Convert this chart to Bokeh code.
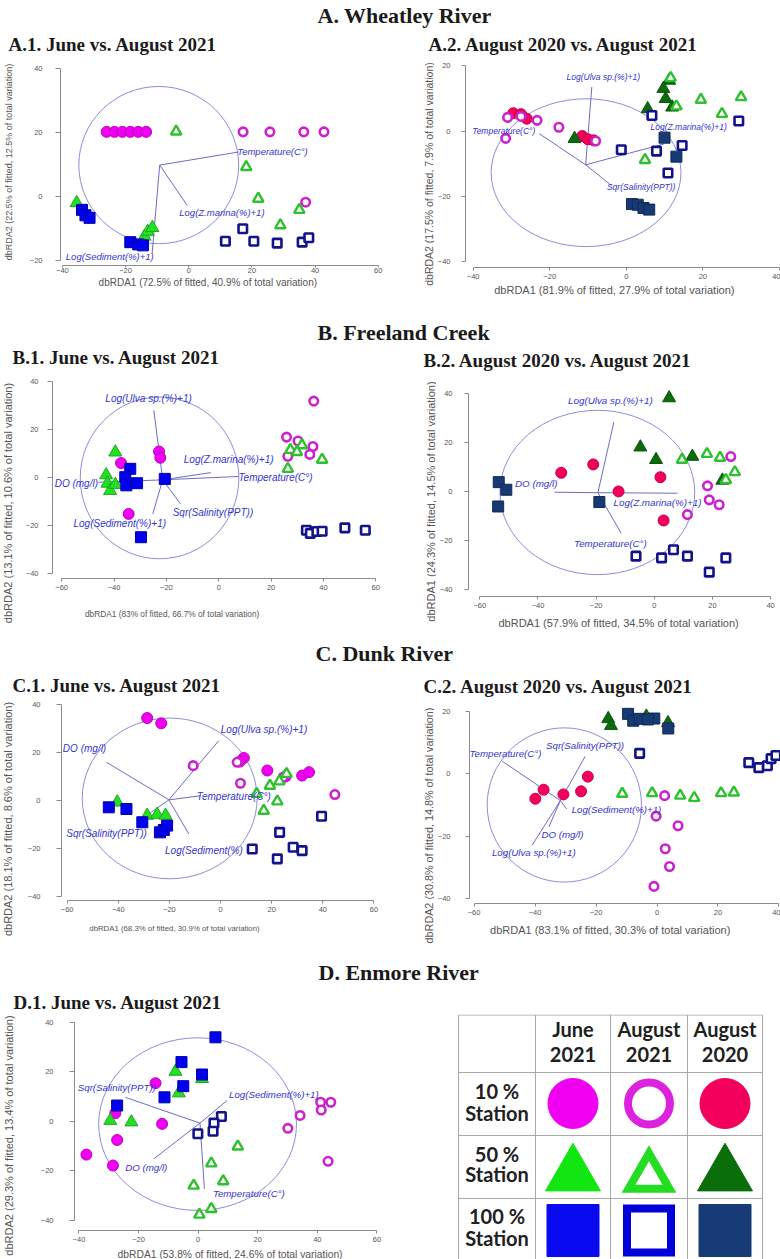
import numpy as np
from bokeh.plotting import figure
from bokeh.layouts import column, row
from bokeh.models import Range1d, FixedTicker
from bokeh.core.properties import value
from bokeh.embed import file_html
from bokeh.resources import INLINE

SANS = "Liberation Sans"
SERIF = "Liberation Serif"

# ---------------- site scores (dbRDA1, dbRDA2) ----------------
# A.1 Wheatley River, June vs. August 2021
A1_JUNE_10 = [(-26, 20.2), (-23.5, 20.2), (-21, 20.2), (-18.5, 20.2), (-16, 20.2), (-13.5, 20.2)]
A1_AUG21_10 = [(17.2, 20.2), (25.7, 20.2), (36.4, 20.2), (42.8, 20.2), (37, -1.8)]
A1_JUNE_50 = [(-35.5, -2), (-14, -12.5), (-13, -11), (-11.5, -9.8)]
A1_AUG21_50 = [(-4, 20.3), (18.2, 9.2), (22, -0.7), (35, -4.2), (29, -9)]
A1_JUNE_100 = [(-33.8, -4.2), (-32.7, -5.9), (-31.4, -6.7), (-18.5, -14.3), (-16, -15), (-14.5, -15.3)]
A1_AUG21_100 = [(11.6, -14), (17.1, -10.1), (20.6, -14), (28, -14.6), (35.9, -14.3), (38, -12.9)]

# A.2 Wheatley River, August 2020 vs. August 2021
A2_AUG20_10 = [(-29.5, 5.5), (-27.5, 5.2), (-26, 3.8), (-11.5, -1.5), (-10, -2.5), (-8.5, -2.8)]
A2_AUG21_10 = [(-31, 4.2), (-31.5, -2.2), (-23.3, 3.3), (-17.6, 1.2), (-27.5, 4.5), (-8, -3)]
A2_AUG20_50 = [(11.2, 15.5), (9.7, 13), (10.3, 9.9), (12, 7.3), (5.6, 6.8), (-13.5, -2.3)]
A2_AUG21_50 = [(11.6, 16.3), (19.5, 9.6), (30, 10.4), (25, 5.3), (4.9, -8.8), (13.1, 7.6)]
A2_AUG20_100 = [(10, -2), (13.1, -7.8), (1.5, -22.3), (3, -22.5), (4.5, -23.5), (6, -24)]
A2_AUG21_100 = [(6.7, 4.8), (29.4, 3.1), (-1.3, -5.7), (7.9, -6.1), (14.6, -4.4), (10.9, -12.8)]

# B.1 Freeland Creek, June vs. August 2021
B1_JUNE_10 = [(-37.3, 6), (-22.8, 10.8), (-22.3, 8.2), (-34.4, -15.2)]
B1_AUG21_10 = [(36.3, 31.8), (25.9, 16.8), (30.3, 15.2), (36, 12.9), (34.8, 9.6), (26.4, 8.8)]
B1_JUNE_50 = [(-39.5, 10.5), (-43, 1), (-42.5, -2.5), (-41.5, -5.5), (-39.5, -3)]
B1_AUG21_50 = [(27.4, 11.5), (31.8, 13.4), (29.9, 10.6), (26.4, 3.6), (39.5, 7.4)]
B1_JUNE_100 = [(-33.8, 3.6), (-35.7, 0.1), (-35.3, -3.3), (-31.2, -2.4), (-20.6, -0.6), (-29.7, -24.9)]
B1_AUG21_100 = [(33.5, -22), (35, -23.3), (37.5, -22.5), (39.5, -22.4), (48.2, -21), (56, -22)]

# B.2 Freeland Creek, August 2020 vs. August 2021
B2_AUG20_10 = [(-32, 7.6), (-21, 11), (-12.3, 0), (2.1, 5.8), (3.2, -11.8)]
B2_AUG21_10 = [(26.3, 14.2), (18.3, 2.3), (18.9, -3.4), (22.3, -5.4), (11.4, -9.4)]
B2_AUG20_50 = [(5.1, 38), (-4.8, 18), (0.6, 12.9), (13.1, 14.2), (23.4, 4.5)]
B2_AUG21_50 = [(9.5, 12.9), (18.1, 15.3), (22.6, 13.7), (27.7, 7.9), (24.6, 4.7)]
B2_AUG20_100 = [(-53.5, 3.8), (-50.9, 0.7), (-53.7, -6.1), (-18.9, -4.3)]
B2_AUG21_100 = [(-6.3, -26.3), (2.5, -27), (6.6, -23.7), (11.4, -26.3), (18.9, -32.8), (24.6, -27)]

# C.1 Dunk River, June vs. August 2021
C1_JUNE_10 = [(-28.7, 34.3), (-23.2, 32.1), (9.1, 17.7), (7.5, 16.2), (18.3, 12.5), (25.4, 10), (31.9, 10.4), (34.6, 11.8)]
C1_AUG21_10 = [(-10.7, 14.5), (6.5, 15.9), (7.8, 7.2), (44.7, 2.5), (24.5, 9.7)]
C1_JUNE_50 = [(-40.4, -0.7), (-28.7, -6.2), (-24.8, -5.8), (-21.5, -6.2)]
C1_AUG21_50 = [(14.1, 2.8), (19.3, 6.2), (22.2, -0.3), (16.9, -4.2), (25.8, 11.1), (23, 8)]
C1_JUNE_100 = [(-43.7, -2.8), (-36.8, -3.5), (-30.6, -9), (-23.7, -13.2), (-22.2, -12.2), (-20.9, -10.4)]
C1_AUG21_100 = [(39.5, -6.5), (23.1, -13.2), (12.4, -20.1), (28.4, -19.4), (31.9, -20.8), (22.2, -24.2)]

# C.2 Dunk River, August 2020 vs. August 2021
C2_AUG20_10 = [(-39.9, -8), (-37.2, -5.1), (-30.7, -6.6), (-24.9, -5.6), (-22.7, -0.9)]
C2_AUG21_10 = [(2.5, -7), (-0.3, -13.6), (6.9, -16.7), (2.7, -24.1), (4.1, -29.8), (-1, -36.2)]
C2_AUG20_50 = [(-16, 17.7), (-15.1, 15.5), (-3.5, 18.5), (3.6, 16.4)]
C2_AUG21_50 = [(-11.4, -6.4), (-1.6, -6.2), (7.6, -7), (12.2, -7.7), (21, -6.2), (25.2, -6)]
C2_AUG20_100 = [(-9.5, 19.3), (-7.8, 17.1), (-5.7, 17.7), (-0.9, 17.8), (3.7, 14.6), (-3, 17.5)]
C2_AUG21_100 = [(-5.7, 6.6), (30.1, 3.6), (33.4, 2), (36.2, 2.6), (37.4, 4.9), (39, 5.9)]

# D.1 Enmore River, June vs. August 2021
D1_JUNE_10 = [(-14.3, 15.4), (-12.1, -1), (-27.8, 3.3), (-27.2, -7.5), (-37.5, -13.4), (-28.6, -17.8)]
D1_AUG21_10 = [(34.2, 2.4), (30.1, -2.8), (41.1, 7.7), (44.5, 7.7), (41.3, 4.6), (43.6, -16.1)]
D1_JUNE_50 = [(-7.6, 20.1), (-6.5, 11.4), (-29.5, 0.3), (-22.4, -0.3), (1.3, 17.2)]
D1_AUG21_50 = [(13.3, -10.1), (4.4, -16.9), (8.4, -24.1), (-1.5, -25.9), (4.4, -35.3), (0.4, -37.6)]
D1_JUNE_100 = [(5.8, 33.9), (-5.6, 23.9), (1.3, 18.9), (-5, 14.2), (-11.3, 9.7), (-27.2, 6.4)]
D1_AUG21_100 = [(7.8, 2), (5.3, -0.7), (5, -4), (-0.1, -5)]

# ---------------- predictor vectors and correlation circles ----------------
A1_VEC_ORIGIN = (-9.2, 9.8)
A1_VEC_NAMES = ["Temperature(C°)", "Log(Z.marina(%)+1)", "Log(Sediment(%)+1)"]
A1_VEC_X = [15.8, -0.5, -11.6]
A1_VEC_Y = [13.9, -2.8, -17.9]
A1_CIRCLE = (-9.5, 9.8, 50.6, 49.2)

A2_VEC_ORIGIN = (-10.6, -10.3)
A2_VEC_NAMES = ["Log(Ulva sp.(%)+1)", "Temperature(C°)", "Sqr(Salinity(PPT))", "Log(Z.marina(%)+1)"]
A2_VEC_X = [-9, -22.7, -3.9, 9.9]
A2_VEC_Y = [13.5, -0.8, -16.6, -3.9]
A2_CIRCLE = (-10.5, -12.7, 49.6, 45.2)

B1_VEC_ORIGIN = (-21.4, -1)
B1_VEC_NAMES = ["Log(Ulva sp.(%)+1)", "Log(Z.marina(%)+1)", "Temperature(C°)", "DO (mg/l)",
                "Sqr(Salinity(PPT))", "Log(Sediment(%)+1)"]
B1_VEC_X = [-24.8, -3, 7.6, -46, -14.6, -25.2]
B1_VEC_Y = [28, 2, 0.4, -2, -11, -15.2]
B1_CIRCLE = (-22.6, -0.2, 60.6, 67.4)

B2_VEC_ORIGIN = (-19.4, -0.5)
B2_VEC_NAMES = ["Log(Ulva sp.(%)+1)", "DO (mg/l)", "Log(Z.marina(%)+1)", "Temperature(C°)"]
B2_VEC_X = [-13.9, -34.3, 8, -11.4]
B2_VEC_Y = [28.2, -0.3, -0.7, -17]
B2_CIRCLE = (-19.6, -0.4, 67, 66.8)

C1_VEC_ORIGIN = (-20.2, 0.3)
C1_VEC_NAMES = ["DO (mg/l)", "Log(Ulva sp.(%)+1)", "Temperature(C°)", "Sqr(Salinity(PPT))", "Log(Sediment(%)"]
C1_VEC_X = [-44.6, -0.7, -7.8, -30, -12.4]
C1_VEC_Y = [15.9, 24.9, 2, -7, -13.9]
C1_CIRCLE = (-19.9, 0.9, 68.4, 66.8)

C2_VEC_ORIGIN = (-31.7, -8.6)
C2_VEC_NAMES = ["Temperature(C°)", "Sqr(Salinity(PPT))", "Log(Sediment(%)+1)", "DO (mg/l)", "Log(Ulva sp.(%)+1)"]
C2_VEC_X = [-50.8, -23.6, -29.6, -35.5, -41]
C2_VEC_Y = [4.1, 5.6, -11.3, -17.1, -23]
C2_CIRCLE = (-30.4, -10, 50.6, 49.6)

D1_VEC_ORIGIN = (0.6, -0.7)
D1_VEC_NAMES = ["Sqr(Salinity(PPT))", "Log(Sediment(%)+1)", "DO (mg/l)", "Temperature(C°)"]
D1_VEC_X = [-24.4, 9.7, -14.9, 2.1]
D1_VEC_Y = [9.7, 8.4, -15.1, -27.2]
D1_CIRCLE = (-0.2, -1.1, 66.4, 69.6)

# ---------------- axis titles ----------------
AXIS_TITLES = {
    "A1": ("dbRDA1 (72.5% of fitted, 40.9% of total variation)", "dbRDA2 (22.5% of fitted, 12.5% of total variation)"),
    "A2": ("dbRDA1 (81.9% of fitted, 27.9% of total variation)", "dbRDA2 (17.5% of fitted, 7.9% of total variation)"),
    "B1": ("dbRDA1 (83% of fitted, 66.7% of total variation)", "dbRDA2 (13.1% of fitted, 10.6% of total variation)"),
    "B2": ("dbRDA1 (57.9% of fitted, 34.5% of total variation)", "dbRDA1 (24.3% of fitted, 14.5% of total variation)"),
    "C1": ("dbRDA1 (68.3% of fitted, 30.9% of total variation)", "dbRDA2 (18.1% of fitted, 8.6% of total variation)"),
    "C2": ("dbRDA1 (83.1% of fitted, 30.3% of total variation)", "dbRDA2 (30.8% of fitted, 14.8% of total variation)"),
    "D1": ("dbRDA1 (53.8% of fitted, 24.6% of total variation)", "dbRDA2 (29.3% of fitted, 13.4% of total variation)"),
}

# ---------------- legend categories ----------------
LEGEND_DATES = [("June", "2021"), ("August", "2021"), ("August", "2020")]
LEGEND_STATIONS = [("10 %", "Station"), ("50 %", "Station"), ("100 %", "Station")]
LEGEND_KEYS = [["june10", "aug21_10", "aug20_10"],
               ["june50", "aug21_50", "aug20_50"],
               ["june100", "aug21_100", "aug20_100"]]

# ---------------- marker styles ----------------
STYLE = {
    "june10":    dict(marker="circle",   fill="#f000f0", line="#c000c0", size=11, lw=1.0),
    "aug21_10":  dict(marker="circle",   fill="white",   line="#cc22cc", size=8.5, lw=2.6),
    "aug20_10":  dict(marker="circle",   fill="#f2005c", line="#c4004c", size=11, lw=1.0),
    "june50":    dict(marker="triangle", fill="#22e022", line="#1fa81f", size=13, lw=1.0),
    "aug21_50":  dict(marker="triangle", fill="white",   line="#2ec02e", size=10.5, lw=2.4),
    "aug20_50":  dict(marker="triangle", fill="#0b6b0b", line="#0a560a", size=13, lw=1.0),
    "june100":   dict(marker="square",   fill="#0000ee", line="#0000a8", size=11, lw=1.0),
    "aug21_100": dict(marker="square",   fill="white",   line="#12128c", size=8.5, lw=2.6),
    "aug20_100": dict(marker="square",   fill="#173a72", line="#0f2a5a", size=11, lw=1.0),
}
LEGEND_STYLE = {
    "june10":    dict(fill="#f000f0", line="#f000f0", lw=1),
    "aug21_10":  dict(fill="white",   line="#dd22dd", lw=8),
    "aug20_10":  dict(fill="#f2005c", line="#f2005c", lw=1),
    "june50":    dict(fill="#11e611", line="#11e611", lw=1),
    "aug21_50":  dict(fill="white",   line="#22dd22", lw=8),
    "aug20_50":  dict(fill="#0a6e0a", line="#0a6e0a", lw=1),
    "june100":   dict(fill="#0a0af0", line="#0a0af0", lw=1),
    "aug21_100": dict(fill="white",   line="#0000d8", lw=8),
    "aug20_100": dict(fill="#163b76", line="#163b76", lw=1),
}

AXIS_GREY = "#8a8a8a"
TEXT_GREY = "#555555"
CIRCLE_COLOR = "#8c8cd8"
VECTOR_COLOR = "#6c6cc8"
VECTOR_TEXT = "#3434d0"
TICK_FONT = "7.5px"

# ---------------- panel geometry ----------------
# block: (block width, y-title strip width, block height, plot height)
# border: (left, right, top, bottom) space around the plotting frame
PANELS = {
    "A1": dict(groups=[("june10", A1_JUNE_10), ("june50", A1_JUNE_50), ("june100", A1_JUNE_100),
                       ("aug21_10", A1_AUG21_10), ("aug21_50", A1_AUG21_50), ("aug21_100", A1_AUG21_100)],
               origin=A1_VEC_ORIGIN, names=A1_VEC_NAMES, vx=A1_VEC_X, vy=A1_VEC_Y, circle=A1_CIRCLE,
               label_at=[(26.5, 14), (10.5, -4.9), (-25, -18.8)], vec_font="9.5px",
               block=(390, 16, 236, 217), border=(44, 4, 1, 12),
               xr=(-40.6, 62.6), yr=(-21.6, 42.2),
               xticks=[-40, -20, 0, 20, 40, 60], yticks=[-20, 0, 20, 40],
               xtick=(2, 0), ytick=(5, 13),
               xlab=(169, 5, "10px"), ylab=(8, 101.5, "9px")),
    "A2": dict(groups=[("aug20_10", A2_AUG20_10), ("aug21_10", A2_AUG21_10), ("aug20_50", A2_AUG20_50),
                       ("aug21_50", A2_AUG21_50), ("aug20_100", A2_AUG20_100), ("aug21_100", A2_AUG21_100)],
               origin=A2_VEC_ORIGIN, names=A2_VEC_NAMES, vx=A2_VEC_X, vy=A2_VEC_Y, circle=A2_CIRCLE,
               label_at=[(-6, 16.7), (-32, 0), (3.9, -17.1), (16.3, 1.2)], vec_font="8.5px",
               block=(390, 44, 236, 223), border=(28, 0, 1, 16),
               xr=(-42.0, 40.3), yr=(-41.7, 21.3),
               xticks=[-40, -20, 0, 20, 40], yticks=[-40, -20, 0, 20],
               xtick=(3, 3), ytick=(4, 11),
               xlab=(163.5, 6, "11px"), ylab=(38, 113.5, "10.5px")),
    "B1": dict(groups=[("june10", B1_JUNE_10), ("june50", B1_JUNE_50), ("june100", B1_JUNE_100),
                       ("aug21_10", B1_AUG21_10), ("aug21_50", B1_AUG21_50), ("aug21_100", B1_AUG21_100)],
               origin=B1_VEC_ORIGIN, names=B1_VEC_NAMES, vx=B1_VEC_X, vy=B1_VEC_Y, circle=B1_CIRCLE,
               label_at=[(-26.8, 32.8), (3.8, 7.4), (21.7, 0.1), (-54.4, -2.4), (-2.2, -14.7), (-37.8, -19)],
               vec_font="10px",
               block=(390, 16, 257, 222), border=(36, 4, 1, 16),
               xr=(-63.5, 64.1), yr=(-42.1, 43.3),
               xticks=[-60, -40, -20, 0, 20, 40, 60], yticks=[-40, -20, 0, 20, 40],
               xtick=(3, 3), ytick=(5, 9),
               xlab=(134, 19, "8.3px"), ylab=(7, 130.5, "11px")),
    "B2": dict(groups=[("aug20_10", B2_AUG20_10), ("aug21_10", B2_AUG21_10), ("aug20_50", B2_AUG20_50),
                       ("aug21_50", B2_AUG21_50), ("aug20_100", B2_AUG20_100), ("aug21_100", B2_AUG21_100)],
               origin=B2_VEC_ORIGIN, names=B2_VEC_NAMES, vx=B2_VEC_X, vy=B2_VEC_Y, circle=B2_CIRCLE,
               label_at=[(-15.1, 37), (-40.6, 3.1), (1.1, -4.3), (-15.1, -21.3)], vec_font="9.8px",
               block=(390, 46, 257, 240), border=(31, 0, 11, 16),
               xr=(-63.9, 43.4), yr=(-42.7, 43.9),
               xticks=[-60, -40, -20, 0, 20, 40], yticks=[-40, -20, 0, 20, 40],
               xtick=(3, 3), ytick=(4, 12),
               xlab=(165.5, 10, "11px"), ylab=(40, 129, "11px")),
    "C1": dict(groups=[("june10", C1_JUNE_10), ("june50", C1_JUNE_50), ("june100", C1_JUNE_100),
                       ("aug21_10", C1_AUG21_10), ("aug21_50", C1_AUG21_50), ("aug21_100", C1_AUG21_100)],
               origin=C1_VEC_ORIGIN, names=C1_VEC_NAMES, vx=C1_VEC_X, vy=C1_VEC_Y, circle=C1_CIRCLE,
               label_at=[(-53.2, 21.5), (17, 29.4), (5.2, 1.9), (-44.6, -13.6), (-6.5, -20.8)], vec_font="10px",
               block=(390, 16, 248, 219), border=(45, 4, 1, 16),
               xr=(-62.2, 64.9), yr=(-41.5, 42.4),
               xticks=[-60, -40, -20, 0, 20, 40, 60], yticks=[-40, -20, 0, 20, 40],
               xtick=(3, 3), ytick=(5, 16),
               xlab=(130, 12, "7.8px"), ylab=(7, 121.5, "11px")),
    "C2": dict(groups=[("aug20_10", C2_AUG20_10), ("aug21_10", C2_AUG21_10), ("aug20_50", C2_AUG20_50),
                       ("aug21_50", C2_AUG21_50), ("aug20_100", C2_AUG20_100), ("aug21_100", C2_AUG21_100)],
               origin=C2_VEC_ORIGIN, names=C2_VEC_NAMES, vx=C2_VEC_X, vy=C2_VEC_Y, circle=C2_CIRCLE,
               label_at=[(-49.7, 6.6), (-23.6, 9.1), (-13.3, -11.6), (-31, -19.5), (-40.4, -25.2)],
               vec_font="9.7px",
               block=(390, 44, 248, 222), border=(33, 0, 3, 16),
               xr=(-61.5, 40.5), yr=(-41.7, 23.6),
               xticks=[-60, -40, -20, 0, 20, 40], yticks=[-40, -20, 0, 20],
               xtick=(3, 3), ytick=(4, 15),
               xlab=(156.5, 10, "11px"), ylab=(38, 128, "10.8px")),
    "D1": dict(groups=[("june10", D1_JUNE_10), ("june50", D1_JUNE_50), ("june100", D1_JUNE_100),
                       ("aug21_10", D1_AUG21_10), ("aug21_50", D1_AUG21_50), ("aug21_100", D1_AUG21_100)],
               origin=D1_VEC_ORIGIN, names=D1_VEC_NAMES, vx=D1_VEC_X, vy=D1_VEC_Y, circle=D1_CIRCLE,
               label_at=[(-27.3, 13.8), (25.4, 10.8), (-17.4, -18.5), (17, -29)], vec_font="9.7px",
               block=(390, 16, 245, 232), border=(58, 4, 1, 16),
               xr=(-41.5, 63.2), yr=(-44.0, 42.7),
               xticks=[-40, -20, 0, 20, 40, 60], yticks=[-40, -20, 0, 20, 40],
               xtick=(3, 3), ytick=(5, 16),
               xlab=(186.5, 8, "10.3px"), ylab=(8, 121, "11px")),
}


def text_box(w, h, items):
    """A blank canvas in pixel units (y pointing down) that only carries text."""
    p = figure(width=w, height=h, x_range=Range1d(0, w), y_range=Range1d(h, 0),
               toolbar_location=None, output_backend="svg", min_border=0,
               x_axis_type=None, y_axis_type=None, outline_line_color=None)
    for it in items:
        p.text(x=[it["x"]], y=[it["y"]], text=[it["text"]], angle=it.get("angle", 0),
               text_font=value(it.get("font", SANS)), text_font_style=it.get("style", "normal"),
               text_font_size=it["size"], text_color=it.get("color", TEXT_GREY),
               text_align=it.get("align", "center"), text_baseline="middle")
    return p


def make_plot(key):
    cfg = PANELS[key]
    bw, yw, bh, ph = cfg["block"]
    L, R, T, B = cfg["border"]
    p = figure(width=bw - yw, height=ph,
               x_range=Range1d(*cfg["xr"]), y_range=Range1d(*cfg["yr"]),
               toolbar_location=None, output_backend="svg",
               min_border_left=L, min_border_right=R, min_border_top=T, min_border_bottom=B,
               outline_line_color=None)
    p.grid.visible = False
    xa, ya = p.xaxis[0], p.yaxis[0]
    xa.ticker = FixedTicker(ticks=cfg["xticks"])
    ya.ticker = FixedTicker(ticks=cfg["yticks"])
    xa.bounds = (min(cfg["xticks"]), max(cfg["xticks"]))
    ya.bounds = (min(cfg["yticks"]), max(cfg["yticks"]))
    for ax in (xa, ya):
        ax.axis_line_color = AXIS_GREY
        ax.major_tick_line_color = AXIS_GREY
        ax.minor_tick_line_color = None
        ax.major_tick_in = 0
        ax.major_label_text_font = SANS
        ax.major_label_text_font_size = TICK_FONT
        ax.major_label_text_color = TEXT_GREY
    xa.major_tick_out, xa.major_label_standoff = cfg["xtick"]
    ya.major_tick_out, ya.major_label_standoff = cfg["ytick"]

    # correlation circle and predictor vectors
    cx, cy, cw, ch = cfg["circle"]
    p.ellipse(x=[cx], y=[cy], width=[cw], height=[ch], fill_color=None,
              line_color=CIRCLE_COLOR, line_width=1)
    ox, oy = cfg["origin"]
    n = len(cfg["vx"])
    p.segment(x0=[ox] * n, y0=[oy] * n, x1=cfg["vx"], y1=cfg["vy"],
              line_color=VECTOR_COLOR, line_width=1)

    # site scores
    for group, pts in cfg["groups"]:
        st = STYLE[group]
        p.scatter([pt[0] for pt in pts], [pt[1] for pt in pts], marker=st["marker"], size=st["size"],
                  fill_color=st["fill"], line_color=st["line"], line_width=st["lw"])

    # vector names
    p.text(x=[a for a, b in cfg["label_at"]], y=[b for a, b in cfg["label_at"]], text=cfg["names"],
           text_font=value(SANS), text_font_style="italic", text_font_size=cfg["vec_font"],
           text_color=VECTOR_TEXT, text_align="center", text_baseline="middle")
    return p


def make_block(key):
    cfg = PANELS[key]
    bw, yw, bh, ph = cfg["block"]
    xt, yt = AXIS_TITLES[key]
    lx, ly, ls = cfg["xlab"]
    yx, yy, ys = cfg["ylab"]
    ytitle = text_box(yw, bh, [dict(x=yx, y=yy, text=yt, size=ys, angle=np.pi / 2)])
    xtitle = text_box(bw - yw, bh - ph, [dict(x=lx, y=ly, text=xt, size=ls)])
    return row(ytitle, column(make_plot(key), xtitle))


def heading(h, section, section_at, titles):
    items = [dict(x=section_at[0], y=section_at[1], text=section, font=SERIF, style="bold",
                  size="22px", color="#1a1a1a", align="left")]
    for t, x, y in titles:
        items.append(dict(x=x, y=y, text=t, font=SERIF, style="bold", size="19px",
                          color="#1a1a1a", align="left"))
    return text_box(780, h, items)


def make_legend():
    h = 245
    p = figure(width=390, height=h, x_range=Range1d(0, 390), y_range=Range1d(h, 0),
               toolbar_location=None, output_backend="svg", min_border=0,
               x_axis_type=None, y_axis_type=None, outline_line_color=None)
    col_edges = [68, 145, 220, 297, 372]
    row_edges = [0.5, 58, 121, 184, 247]
    p.segment(x0=col_edges, y0=[row_edges[0]] * 5, x1=col_edges, y1=[row_edges[-1]] * 5,
              line_color="#a8a8a8", line_width=1)
    p.segment(x0=[col_edges[0]] * 5, y0=row_edges, x1=[col_edges[-1]] * 5, y1=row_edges,
              line_color="#a8a8a8", line_width=1)
    ccx = [(col_edges[i] + col_edges[i + 1]) / 2 for i in range(4)]
    font = dict(text_font=value("Lato"), text_font_style="bold", text_font_size="20px",
                text_color="#202020", text_align="center", text_baseline="middle")
    p.text(x=ccx[1:], y=[14] * 3, text=[d[0] for d in LEGEND_DATES], **font)
    p.text(x=ccx[1:], y=[40] * 3, text=[d[1] for d in LEGEND_DATES], **font)
    row_text_y = [(76, 98), (139, 159), (201, 223)]
    p.text(x=[ccx[0]] * 3, y=[r[0] for r in row_text_y], text=[s[0] for s in LEGEND_STATIONS], **font)
    p.text(x=[ccx[0]] * 3, y=[r[1] for r in row_text_y], text=[s[1] for s in LEGEND_STATIONS], **font)

    marker_y = [89, 160.5, 216]
    shapes = ["circle", "triangle", "square"]
    for r, keys in enumerate(LEGEND_KEYS):
        for c, k in enumerate(keys):
            st = LEGEND_STYLE[k]
            open_mark = st["fill"] == "white"
            base = [50, 55, 52][r]
            size = base - 8 if open_mark else base
            if open_mark and r == 1:
                size = base - 14
            p.scatter([ccx[c + 1]], [marker_y[r] + (2 if (open_mark and r == 1) else 0)],
                      marker=shapes[r], size=size, fill_color=st["fill"],
                      line_color=st["line"], line_width=st["lw"], line_join="miter")
    return p


head_a = heading(60, "A. Wheatley River", (317, 15),
                 [("A.1. June vs. August 2021", 8, 43.5), ("A.2. August 2020 vs. August 2021", 428, 44)])
head_b = heading(76, "B. Freeland Creek", (317, 36),
                 [("B.1. June vs. August 2021", 12, 60.5), ("B.2. August 2020 vs. August 2021", 423, 63.5)])
head_c = heading(68, "C. Dunk River", (315, 24),
                 [("C.1. June vs. August 2021", 12, 56), ("C.2. August 2020 vs. August 2021", 423, 56.5)])
head_d = heading(69, "D. Enmore River", (318, 26.5),
                 [("D.1. June vs. August 2021", 13, 56.5)])

page = column(
    head_a, row(make_block("A1"), make_block("A2")),
    head_b, row(make_block("B1"), make_block("B2")),
    head_c, row(make_block("C1"), make_block("C2")),
    head_d, row(make_block("D1"), make_legend()),
)

open("out.html", "w").write(file_html(page, INLINE))
